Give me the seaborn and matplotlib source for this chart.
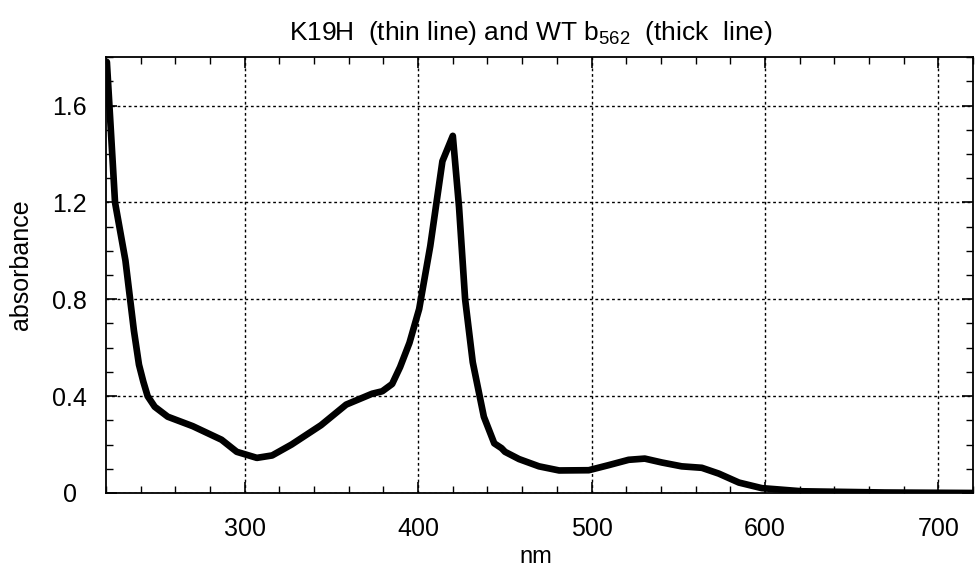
import numpy as np
import pandas as pd
import matplotlib
matplotlib.use("Agg")
import matplotlib.pyplot as plt
import seaborn as sns
from matplotlib.ticker import MultipleLocator

# wavelength (nm) and absorbance
wavelength = [220.5, 225.2, 231.2, 236.1, 239.0, 241.5, 244.0, 248.1, 255.6, 270.0, 286.6,
              295.4, 307.0, 315.8, 327.0, 344.0, 358.5, 373.5, 379.3, 385.0, 389.6,
              395.0, 400.6, 407.0, 414.0, 420.0, 423.6, 427.1, 431.5, 437.9, 443.9,
              448.1, 450.1, 458.2, 469.7, 481.3, 498.4, 509.9, 521.4, 530.7, 540.5,
              552.0, 563.6, 573.4, 585.0, 598.2, 621.3, 669.0, 720.0]
absorbance = [1.78, 1.20, 0.96, 0.67, 0.53, 0.46, 0.40, 0.356, 0.315, 0.276, 0.22,
              0.17, 0.145, 0.155, 0.20, 0.28, 0.365, 0.41, 0.42, 0.45, 0.52,
              0.62, 0.76, 1.02, 1.37, 1.475, 1.18, 0.80, 0.54, 0.315, 0.205,
              0.185, 0.17, 0.14, 0.11, 0.093, 0.094, 0.115, 0.137, 0.142, 0.126,
              0.11, 0.104, 0.08, 0.043, 0.02, 0.007, 0.002, 0.0]

y_ticks = [0, 0.4, 0.8, 1.2, 1.6]
y_labels = ["0", "0.4", "0.8", "1.2", "1.6"]
x_ticks = [300, 400, 500, 600, 700]

df = pd.DataFrame({"nm": wavelength, "absorbance": absorbance})

sns.set_theme(style="ticks")
plt.rcParams["font.family"] = ["Liberation Sans", "DejaVu Sans"]
plt.rcParams["mathtext.fontset"] = "custom"
plt.rcParams["mathtext.rm"] = "Liberation Sans"
plt.rcParams["mathtext.it"] = "Liberation Sans"
plt.rcParams["text.color"] = "black"
plt.rcParams["axes.labelcolor"] = "black"

fig = plt.figure(figsize=(9.78, 5.69), dpi=100)
ax = fig.add_axes([0.1084, 0.1336, 0.8865, 0.766])

sns.lineplot(data=df, x="nm", y="absorbance", color="black", linewidth=4.8, ax=ax)

ax.set_xlim(220, 720)
ax.set_ylim(0, 1.80)
ax.set_xticks(x_ticks)
ax.set_xticklabels([str(t) for t in x_ticks])
ax.set_yticks(y_ticks)
ax.set_yticklabels(y_labels)
ax.xaxis.set_minor_locator(MultipleLocator(20))
ax.yaxis.set_minor_locator(MultipleLocator(0.1))

ax.grid(True, which="major", color="black", linestyle=(0, (2, 2)), linewidth=1.0)
for s in ax.spines.values():
    s.set_visible(True)
    s.set_color("black")
    s.set_linewidth(1.3)

ax.tick_params(which="both", direction="in", top=True, right=True, colors="black")
ax.tick_params(which="major", length=8, width=1.2)
ax.tick_params(which="minor", length=5, width=1.0)
ax.tick_params(axis="x", which="major", labelsize=18, pad=17)
ax.tick_params(axis="y", which="major", labelsize=18, pad=26)
for lab in ax.get_yticklabels():
    lab.set_horizontalalignment("center")

ax.set_xlabel("nm", fontsize=17)
ax.xaxis.set_label_coords(0.496, -0.122)
ax.set_ylabel("absorbance", fontsize=18)
ax.yaxis.set_label_coords(-0.084, 0.523)
ax.set_title(r"K19H  (thin line) and WT b$_{562}$  (thick  line)", fontsize=19, pad=12, x=0.49)

fig.savefig("out.png", dpi=100, facecolor="white")
